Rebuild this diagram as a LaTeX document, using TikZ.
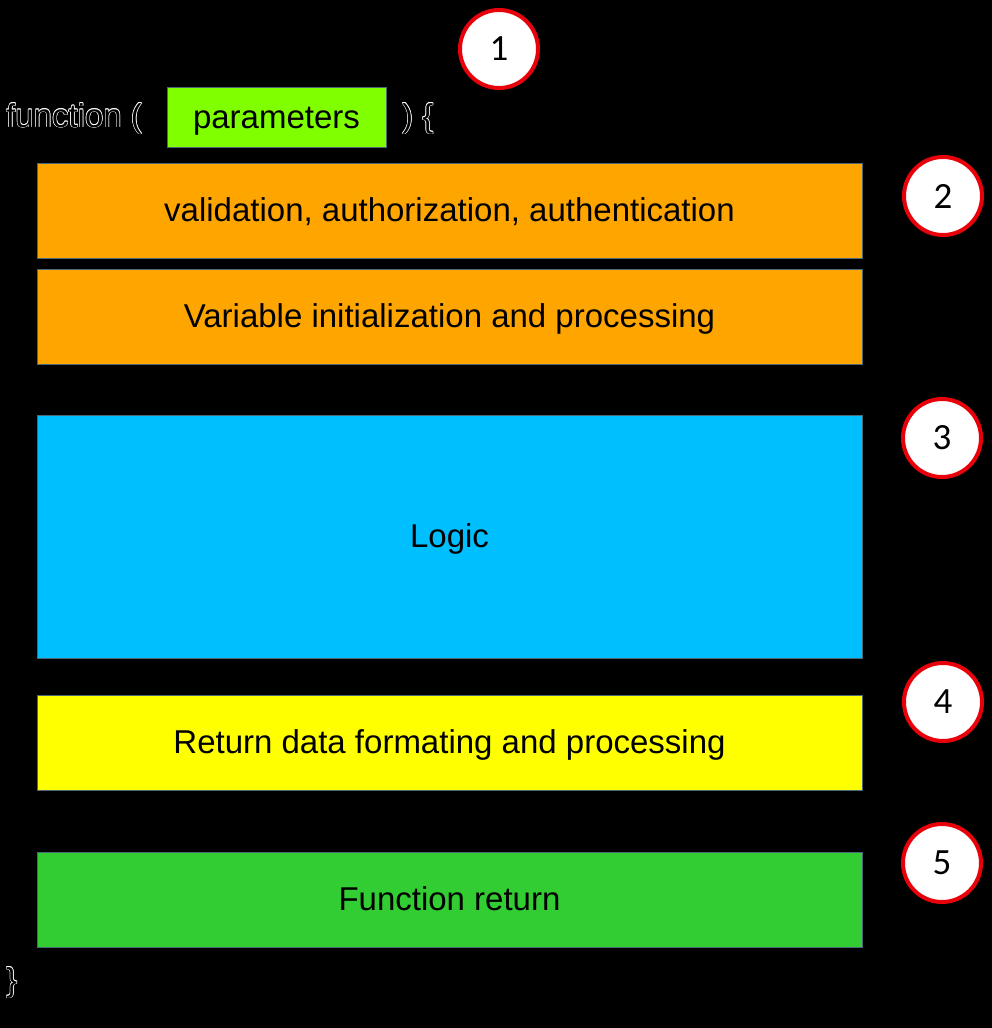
\documentclass[tikz,border=0pt]{standalone}
\usepackage{fontspec}
\setmainfont{Liberation Sans}
\newfontfamily\numfont{Carlito}
\definecolor{edgegray}{HTML}{4A6878}
\definecolor{paramgreen}{HTML}{80FF00}
\definecolor{stageorange}{HTML}{FFA500}
\definecolor{logicblue}{HTML}{00BFFF}
\definecolor{formatyellow}{HTML}{FFFF00}
\definecolor{returngreen}{HTML}{32CD32}
\definecolor{markred}{HTML}{E8000B}
\tikzset{
  block/.style={draw=edgegray, line width=0.9pt, fill=#1, text=black,
    font=\fontsize{33}{40}\selectfont, inner sep=0pt, rectangle,
    text height=22pt, text depth=0pt},
  wideblock/.style={block=#1, minimum width=825pt, minimum height=95pt},
  marker/.style={circle, draw=markred, line width=4pt, fill=white,
    minimum size=78pt, inner sep=0pt, text=black,
    font=\numfont\fontsize{37}{40}\selectfont},
  codetext/.style={font=\fontsize{33}{40}\selectfont, inner sep=0pt, anchor=base west}
}
% code text: black glyphs with a thin light outline
\newcommand{\outlinedcode}[3]{%
  \foreach \dx/\dy in {0.6/0,-0.6/0,0/0.6,0/-0.6,0.45/0.45,-0.45/0.45,0.45/-0.45,-0.45/-0.45}
    \node[codetext, text=white, xshift=\dx pt, yshift=\dy pt] at (#2) {#3};
  \node[codetext, text=black] (#1) at (#2) {#3};
}
\begin{document}
\begin{tikzpicture}[x=1pt, y=-1pt]
\fill[black] (0,0) rectangle (992,1028);
\useasboundingbox (0,0) rectangle (992,1028);

% function signature
\outlinedcode{fnopen}{6,127}{function (}
\node[block=paramgreen, minimum width=219pt, minimum height=60pt] (params) at (276.5,117) {parameters};
\outlinedcode{fnbrace}{402,127}{) \{}

% function body stages
\node[wideblock=stageorange] (validate) at (449.5,210.5) {validation, authorization, authentication};
\node[wideblock=stageorange] (init) at (449.5,316.5) {Variable initialization and processing};
\node[block=logicblue, minimum width=825pt, minimum height=243pt] (logic) at (449.5,536.5) {Logic};
\node[wideblock=formatyellow] (format) at (449.5,742.5) {Return data formating and processing};
\node[wideblock=returngreen] (ret) at (449.5,899.5) {Function return};

% closing brace
\outlinedcode{fnclose}{6,991}{\}}

% numbered markers
\node[marker] (m1) at (499,49) {1};
\node[marker] (m2) at (943,196) {2};
\node[marker] (m3) at (942,438) {3};
\node[marker] (m4) at (943,702) {4};
\node[marker] (m5) at (942,863) {5};
\end{tikzpicture}
\end{document}
